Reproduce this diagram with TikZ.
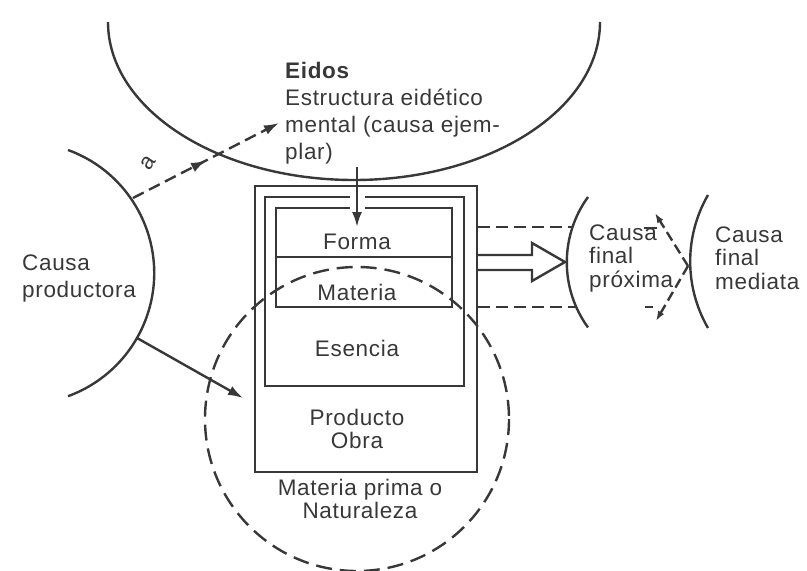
\documentclass[tikz,border=0pt]{standalone}
\usepackage{fontspec}
\setmainfont{Liberation Sans}[LetterSpace=3]
\usetikzlibrary{arrows.meta,decorations.markings}
\begin{document}
\begin{tikzpicture}[x=1pt,y=-1pt,
  ln/.style={line width=2.4pt,draw=black!78},
  dsh/.style={ln,dash pattern=on 12pt off 6pt},
  dcirc/.style={ln,dash pattern=on 16pt off 8pt},
  tip/.style={-{Latex[length=15pt,width=10pt]}},
  stip/.style={-{Latex[length=10pt,width=7pt]}},
  txt/.style={inner sep=0pt,text=black!78,font=\fontsize{22.5}{27}\selectfont},
  txtb/.style={inner sep=0pt,text=black!78,font=\fontsize{22.5}{23.5}\selectfont}]
\useasboundingbox (0,0) rectangle (807,571);
\clip (0,0) rectangle (807,571);
% Eidos ellipse
\draw[ln] (600,22) arc[start angle=0,end angle=180,x radius=246,y radius=158];
% left circle
\draw[ln] (68,150) arc[start angle=-70,end angle=70,radius=131];
% dashed circle
\draw[dcirc] (357,419) circle[radius=152];
% boxes
\draw[ln] (255,186) rectangle (477,472);
\draw[ln] (265,197) rectangle (464,386);
\draw[ln] (276,208) rectangle (452,307);
\draw[ln] (276,257) -- (452,257);
% gap for vertical arrow
\fill[white] (350,191) rectangle (365,212);
% right arcs
\draw[ln] (588,197) arc[start angle=216,end angle=144,radius=111];
\draw[ln] (708,195) arc[start angle=210,end angle=150,radius=133];
% texts
\node[txt,anchor=west,align=left] (eidos) at (285,113) {\textbf{Eidos}\\Estructura eidético\\mental (causa ejem-\\plar)};
\node[txt,anchor=west,align=left] (prod) at (22,278) {Causa\\productora};
\node[txtb] (forma) at (357,242) {Forma};
\node[txtb] (materia) at (357,292) {Materia};
\node[txtb] (esencia) at (357,348) {Esencia};
\node[txtb,align=center] (obra) at (357,429) {Producto\\Obra};
\node[txtb,align=center] (mp) at (360,499) {Materia prima o\\Naturaleza};
\node[txtb,anchor=west,align=left] (cfp) at (589,258) {Causa\\final\\próxima};
\node[txtb,anchor=west,align=left] (cfm) at (715,258) {Causa\\final\\mediata};
\node[txt,rotate=55] (a) at (148,163) {a};
% coordinates
\coordinate (a1) at (133,198);
\coordinate (a2) at (279,123);
\coordinate (v1) at (357,167);
\coordinate (v2) at (357,227);
\coordinate (p1) at (137,338);
\coordinate (p2) at (243,398);
% connectors
\draw[dsh,tip,postaction={decorate},decoration={markings,mark=at position 0.5 with {\arrow{Latex[length=15pt,width=10pt]}}}] (a1) -- (a2);
\draw[ln,tip] (v1) -- (v2);
\draw[ln,tip] (p1) -- (p2);
% hollow arrow
\draw[ln,line join=miter] (477,255) -- (532,255) -- (532,243) -- (565,262) -- (532,281) -- (532,270) -- (477,270);
% dashed lines right
\draw[dsh] (478,227) -- (573,227);
\draw[dsh] (478,307) -- (576,307);
\draw[ln] (644,228) -- (657,228);
\draw[ln] (645,307) -- (653,307);
\coordinate (cv) at (688,266);
\coordinate (ct) at (655,213);
\coordinate (cb) at (656,321);
\draw[ln,stip,dash pattern=on 10pt off 5pt] (cv) -- (ct);
\draw[ln,stip,dash pattern=on 10pt off 5pt] (cv) -- (cb);
\end{tikzpicture}
\end{document}
